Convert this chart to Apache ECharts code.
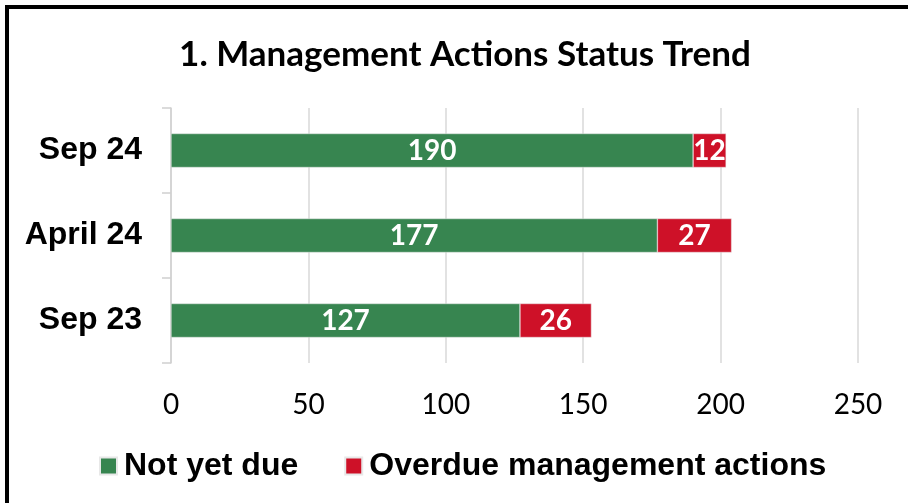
<!DOCTYPE html>
<html>
<head>
<meta charset="utf-8">
<style>
html,body{margin:0;padding:0;background:#fff;}
#chart{width:908px;height:503px;}
</style>
<script src="https://cdn.jsdelivr.net/npm/echarts@6/dist/echarts.min.js"></script>
</head>
<body>
<div id="chart"></div>
<script>
var categories = ['Sep 24', 'April 24', 'Sep 23'];
var notYetDue = [190, 177, 127];
var overdue = [12, 27, 26];
var xTicks = { min: 0, max: 250, interval: 50 };
var seriesNames = ['Not yet due', 'Overdue management actions'];

var chart = echarts.init(document.getElementById('chart'), null, { renderer: 'canvas' });
var labelStyle = {
  show: true,
  position: 'inside',
  color: '#ffffff',
  fontFamily: 'Lato',
  fontWeight: 'bold',
  fontSize: 28
};
chart.setOption({
  animation: false,
  backgroundColor: '#ffffff',
  graphic: [{
    type: 'rect',
    shape: { x: 7, y: 7, width: 2000, height: 2000 },
    style: { fill: 'none', stroke: '#000000', lineWidth: 4 },
    silent: true
  }],
  title: {
    text: '1. Management Actions Status Trend',
    left: 460,
    textAlign: 'center',
    top: 32,
    textStyle: { fontFamily: 'Lato', fontWeight: 'bold', fontSize: 35, color: '#000000' }
  },
  legend: {
    left: 99,
    top: 450,
    padding: 0,
    icon: 'rect',
    itemWidth: 17,
    itemHeight: 17,
    itemGap: 46,
    textStyle: { fontFamily: 'Liberation Sans', fontWeight: 'bold', fontSize: 32, color: '#000000', padding: [0, 0, 0, 2] },
    data: seriesNames
  },
  grid: { left: 171, right: 50, top: 108, bottom: 140, containLabel: false },
  xAxis: {
    type: 'value',
    min: xTicks.min,
    max: xTicks.max,
    interval: xTicks.interval,
    axisLine: { show: false },
    axisTick: { show: false },
    splitLine: { show: true, lineStyle: { color: '#d9d9d9', width: 1.5 } },
    axisLabel: { margin: 28, fontFamily: 'Lato', fontSize: 28, color: '#000000' }
  },
  yAxis: {
    type: 'category',
    inverse: true,
    data: categories,
    axisLine: { show: true, lineStyle: { color: '#d0d0d0', width: 1.5 } },
    axisTick: { show: true, length: 9, lineStyle: { color: '#d0d0d0', width: 1.5 } },
    axisLabel: { margin: 29, fontFamily: 'Liberation Sans', fontWeight: 'bold', fontSize: 32, color: '#000000' }
  },
  series: [
    {
      name: seriesNames[0],
      type: 'bar',
      stack: 'total',
      barWidth: '40%',
      data: notYetDue,
      itemStyle: { color: '#378550', borderColor: '#e8e8e8', borderWidth: 0.5 },
      label: labelStyle
    },
    {
      name: seriesNames[1],
      type: 'bar',
      stack: 'total',
      barWidth: '40%',
      data: overdue,
      itemStyle: { color: '#CE1128', borderColor: '#e8e8e8', borderWidth: 0.5 },
      label: labelStyle
    }
  ]
});
</script>
</body>
</html>
